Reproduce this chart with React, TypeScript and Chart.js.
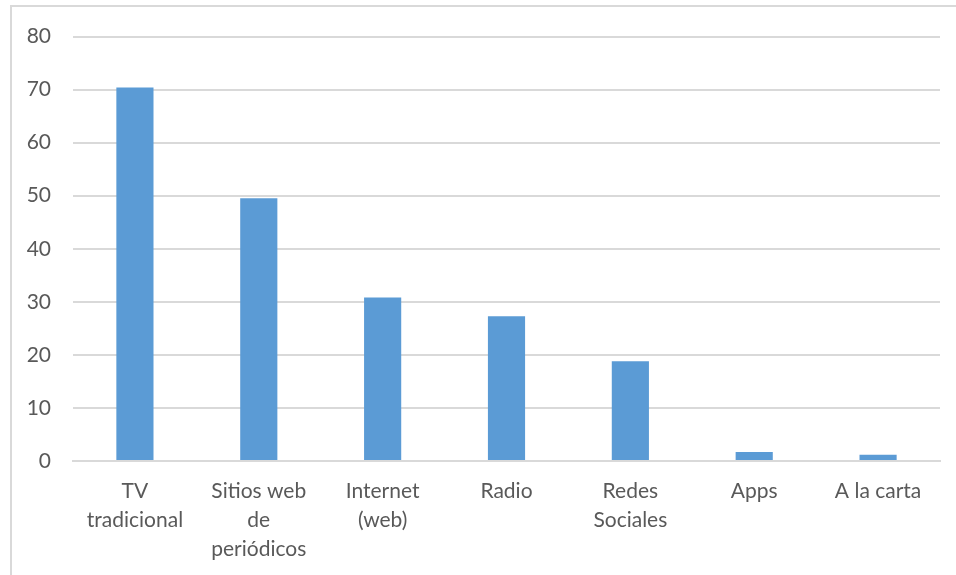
import React, { useEffect, useRef } from "react";
import { Chart, registerables } from "chart.js";

Chart.register(...registerables);

const categories: string[][] = [
  ["TV", "tradicional"],
  ["Sitios web", "de", "periódicos"],
  ["Internet", "(web)"],
  ["Radio"],
  ["Redes", "Sociales"],
  ["Apps"],
  ["A la carta"],
];
const values: number[] = [70.4, 49.5, 30.8, 27.3, 18.8, 1.7, 1.2];
const yTicks = { min: 0, max: 80, step: 10 };

export default function App() {
  const ref = useRef<HTMLCanvasElement | null>(null);
  useEffect(() => {
    if (!ref.current) return;
    const textColor = "#595959";
    const font = { family: "Lato, 'Open Sans', sans-serif", size: 21, lineHeight: 29 / 21 };
    const chart = new Chart(ref.current, {
      type: "bar",
      data: {
        labels: categories,
        datasets: [
          {
            data: values,
            backgroundColor: "#5B9BD5",
            borderWidth: 0,
            categoryPercentage: 1,
            barPercentage: 0.3,
          },
        ],
      },
      options: {
        responsive: false,
        animation: false,
        layout: { padding: { top: 35, right: 16, bottom: 0, left: 0 } },
        plugins: { legend: { display: false }, tooltip: { enabled: false } },
        scales: {
          x: {
            grid: { display: false, drawTicks: false },
            border: { display: true, color: "#d9d9d9", width: 2 },
            ticks: { color: textColor, font, padding: 16, maxRotation: 0, autoSkip: false },
            afterFit: (s: any) => {
              s.height = 114;
            },
          },
          y: {
            min: yTicks.min,
            max: yTicks.max,
            grid: { color: "#d9d9d9", lineWidth: 2, drawTicks: false },
            border: { display: false },
            ticks: { stepSize: yTicks.step, color: textColor, font, padding: 22 },
            afterFit: (s: any) => {
              s.width = 73;
            },
          },
        },
      },
    });
    return () => chart.destroy();
  }, []);
  return (
    <div style={{ position: "fixed", left: 0, top: 0, width: 956, height: 575, overflow: "hidden", background: "#fff" }}>
      <div
        style={{
          position: "absolute",
          left: 10,
          top: 5,
          width: 1200,
          height: 1200,
          borderTop: "2px solid #d9d9d9",
          borderLeft: "2px solid #d9d9d9",
        }}
      />
      <canvas ref={ref} width={956} height={575} style={{ position: "absolute", left: 0, top: 0 }} />
    </div>
  );
}
